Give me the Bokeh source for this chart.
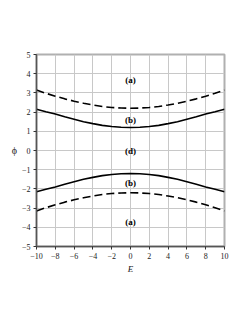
from bokeh.plotting import figure
from bokeh.models import Label, FixedTicker
from bokeh.embed import file_html
from bokeh.resources import INLINE

# data
E_vals = [-10, -9, -8, -7, -6, -5, -4, -3, -2, -1, 0, 1, 2, 3, 4, 5, 6, 7, 8, 9, 10]
phi_a_upper = [3.15, 2.98, 2.83, 2.69, 2.57, 2.46, 2.37, 2.29, 2.24, 2.21, 2.2,
               2.21, 2.24, 2.29, 2.37, 2.46, 2.57, 2.69, 2.83, 2.98, 3.15]
phi_b_upper = [2.15, 2.02, 1.90, 1.76, 1.63, 1.50, 1.40, 1.31, 1.25, 1.21, 1.2,
               1.21, 1.25, 1.31, 1.40, 1.50, 1.63, 1.76, 1.90, 2.02, 2.15]
phi_a_lower = [-v for v in phi_a_upper]
phi_b_lower = [-v for v in phi_b_upper]
label_texts = ["(a)", "(b)", "(d)", "(b)", "(a)"]
label_y = [3.65, 1.6, 0.0, -1.7, -3.7]
x_ticks = [-10, -8, -6, -4, -2, 0, 2, 4, 6, 8, 10]
y_ticks = [-5, -4, -3, -2, -1, 0, 1, 2, 3, 4, 5]

FONT = "Liberation Serif"

p = figure(width=237, height=309, x_range=(-10, 10), y_range=(-5, 5),
           output_backend="svg", toolbar_location=None,
           min_border_left=36, min_border_right=13, min_border_top=54,
           min_border_bottom=63)
p.background_fill_color = "white"
p.border_fill_color = "white"
p.outline_line_color = "#b0b0b0"
p.outline_line_width = 2

p.xaxis.ticker = FixedTicker(ticks=x_ticks)
p.yaxis.ticker = FixedTicker(ticks=y_ticks)
p.xaxis.major_label_overrides = {t: (str(t).replace("-", "\u2212")) for t in x_ticks}
p.yaxis.major_label_overrides = {t: (str(t).replace("-", "\u2212")) for t in y_ticks}
for ax in (p.xaxis, p.yaxis):
    ax.major_label_text_font = FONT
    ax.major_label_text_font_size = "8px"
    ax.major_label_text_color = "#222222"
    ax.axis_line_color = "#555555"
    ax.axis_line_width = 1.5
    ax.major_tick_line_color = "#333333"
    ax.major_tick_in = 0
    ax.major_tick_out = 3
    ax.minor_tick_line_color = None
    ax.major_label_standoff = 3
    ax.axis_label_text_color = "#222222"
p.grid.grid_line_color = "#c8c8c8"
p.grid.grid_line_width = 1

p.line(E_vals, phi_a_upper, line_color="black", line_width=1.6, line_dash="8 4")
p.line(E_vals, phi_b_upper, line_color="black", line_width=1.6)
p.line(E_vals, phi_b_lower, line_color="black", line_width=1.6)
p.line(E_vals, phi_a_lower, line_color="black", line_width=1.6, line_dash="8 4")

for t, y in zip(label_texts, label_y):
    p.add_layout(Label(x=0, y=y, text=t, text_font=FONT, text_font_style="bold",
                       text_font_size="9px", text_align="center",
                       text_baseline="middle", text_color="black"))

p.yaxis.axis_label = "\u03d5"
p.yaxis.axis_label_text_font = FONT
p.yaxis.axis_label_text_font_style = "normal"
p.yaxis.axis_label_text_font_size = "10px"
p.yaxis.axis_label_standoff = 2
try:
    p.yaxis.axis_label_orientation = "horizontal"
except Exception:
    pass

p.xaxis.axis_label = "E"
p.xaxis.axis_label_text_font = FONT
p.xaxis.axis_label_text_font_style = "italic"
p.xaxis.axis_label_text_font_size = "9px"
p.xaxis.axis_label_standoff = 2

open("out.html", "w").write(file_html(p, INLINE))
